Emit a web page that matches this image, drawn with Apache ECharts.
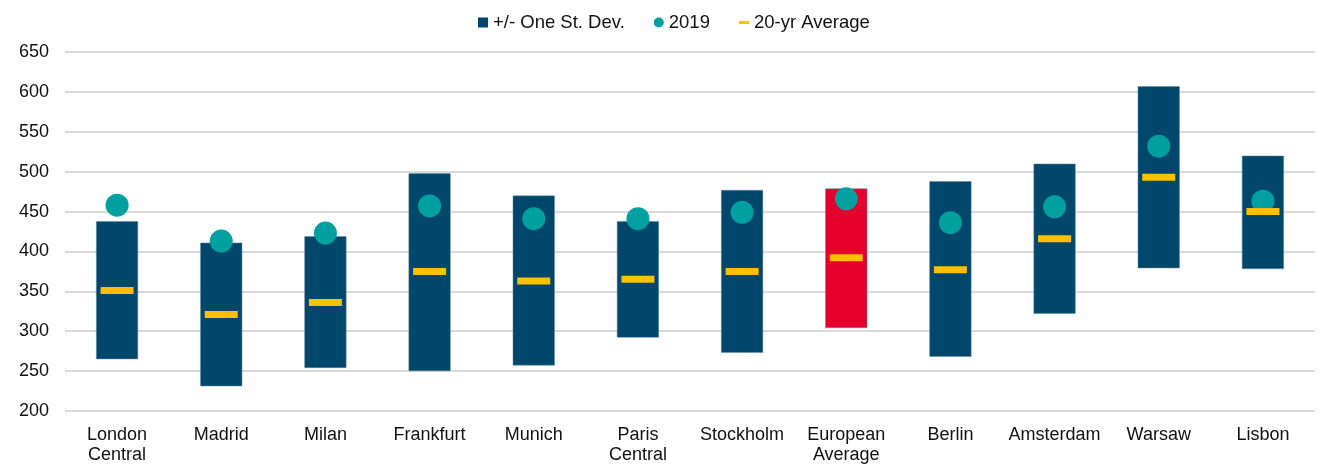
<!DOCTYPE html>
<html>
<head>
<meta charset="utf-8">
<title>Rent range by city</title>
<script src="https://cdn.jsdelivr.net/npm/echarts@6/dist/echarts.min.js"></script>
<style>
    html, body { margin: 0; padding: 0; background: #fff; }
    #rangeChart { width: 1320px; height: 465px; }
</style>
</head>
<body>
<div id="rangeChart"></div>
<script>
// 数据
const cities = ['London\nCentral', 'Madrid', 'Milan', 'Frankfurt', 'Munich', 'Paris\nCentral',
    'Stockholm', 'European\nAverage', 'Berlin', 'Amsterdam', 'Warsaw', 'Lisbon'];
const lowerBand = [265, 231, 254, 250, 257, 292, 273, 304, 268, 322, 379, 378];
const upperBand = [438, 411, 419, 498, 470, 438, 477, 479, 488, 510, 607, 520];
const value2019 = [458, 413, 423, 457, 441, 441, 449, 466, 436, 456, 532, 463];
const avg20yr = [351, 321, 336, 375, 363, 365, 375, 392, 377, 416, 493, 450];
const yTicks = [200, 250, 300, 350, 400, 450, 500, 550, 600, 650];

const highlightCity = 'European\nAverage';

window.addEventListener('DOMContentLoaded', function() {
    initRangeChart();
});

function initRangeChart() {
    const chartDom = document.getElementById('rangeChart');
    const myChart = echarts.init(chartDom);

    // 标准差区间 = 上限 - 下限
    const bandData = cities.map((c, i) => ({
        value: upperBand[i] - lowerBand[i],
        itemStyle: { color: c === highlightCity ? '#E4002B' : '#00476B' }
    }));

    const textColor = '#111';
    const font = 'Liberation Sans, Arial, sans-serif';

    const option = {
        animation: false,
        textStyle: { fontFamily: font },
        legend: {
            left: 473,
            top: 8,
            itemWidth: 10,
            itemHeight: 10,
            itemGap: 29,
            textStyle: { fontSize: 18.5, color: textColor, fontFamily: font },
            data: [
                { name: '+/- One St. Dev.', icon: 'rect', itemStyle: { color: '#00476B', borderWidth: 0 } },
                { name: '2019', icon: 'circle' },
                { name: '20-yr Average', icon: 'path://M0,0 L10,0 L10,3 L0,3 Z' }
            ]
        },
        grid: {
            left: 65,
            right: 5,
            top: 52,
            bottom: 54,
            outerBoundsMode: 'none'
        },
        xAxis: {
            type: 'category',
            data: cities,
            axisLine: { show: false },
            axisTick: { show: false },
            axisLabel: {
                interval: 0,
                margin: 14,
                fontSize: 18,
                lineHeight: 20,
                color: textColor,
                fontFamily: font
            }
        },
        yAxis: {
            type: 'value',
            min: yTicks[0],
            max: yTicks[yTicks.length - 1],
            interval: 50,
            axisLine: { show: false },
            axisTick: { show: false },
            axisLabel: {
                margin: 16,
                fontSize: 18,
                color: textColor,
                fontFamily: font
            },
            splitLine: { lineStyle: { color: '#D9D9D9', width: 2 } }
        },
        series: [
            {
                name: 'base',
                type: 'bar',
                stack: 'range',
                data: lowerBand,
                barWidth: 42,
                itemStyle: { color: 'transparent' },
                silent: true
            },
            {
                name: '+/- One St. Dev.',
                type: 'bar',
                stack: 'range',
                data: bandData,
                barWidth: 42,
                itemStyle: { color: '#00476B', borderColor: '#5f8aa3', borderWidth: 0.5 }
            },
            {
                name: '2019',
                type: 'scatter',
                data: value2019,
                symbol: 'circle',
                symbolSize: 23,
                itemStyle: { color: '#009FA0', opacity: 1 },
                z: 3
            },
            {
                name: '20-yr Average',
                type: 'scatter',
                data: avg20yr,
                symbol: 'rect',
                symbolSize: [33, 7],
                itemStyle: { color: '#FFC000', opacity: 1 },
                z: 4
            }
        ]
    };

    myChart.setOption(option);
    window.addEventListener('resize', () => myChart.resize());
}
</script>
</body>
</html>
